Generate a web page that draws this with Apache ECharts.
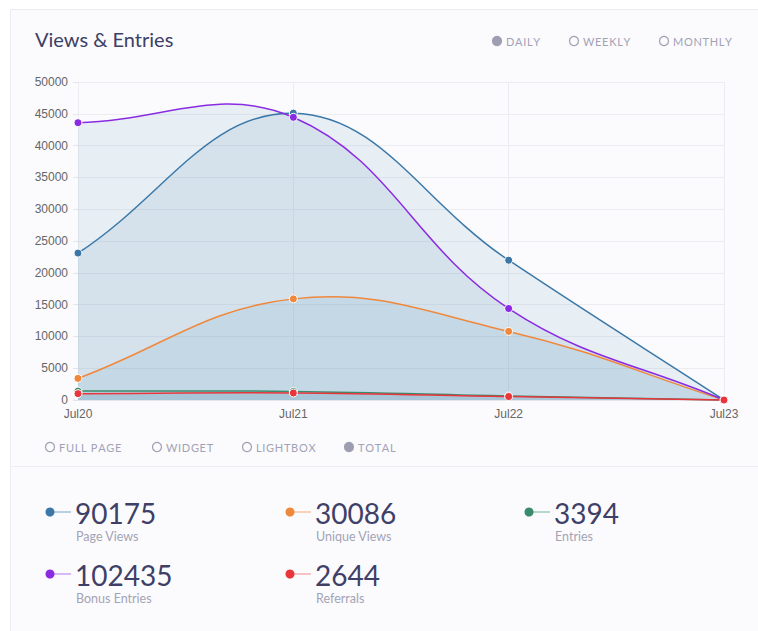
<!DOCTYPE html>
<html>
<head>
<meta charset="utf-8">
<script src="https://cdn.jsdelivr.net/npm/echarts@6/dist/echarts.min.js"></script>
<style>
html,body{margin:0;padding:0;background:#ffffff;}
#chart{width:758px;height:631px;}
</style>
</head>
<body>
<div id="chart"></div>
<script>
var categories = ['Jul20', 'Jul21', 'Jul22', 'Jul23'];
var pageViews = [23100, 45100, 21975, 0];
var uniqueViews = [3400, 15900, 10786, 0];
var entries = [1400, 1350, 644, 0];
var bonusEntries = [43600, 44450, 14385, 0];
var referrals = [1000, 1100, 544, 0];
var yTicks = [0, 5000, 10000, 15000, 20000, 25000, 30000, 35000, 40000, 45000, 50000];
var periodLabels = ['DAILY', 'WEEKLY', 'MONTHLY'];
var sourceLabels = ['FULL PAGE', 'WIDGET', 'LIGHTBOX', 'TOTAL'];
var statTotals = ['90175', '30086', '3394', '102435', '2644'];
var statNames = ['Page Views', 'Unique Views', 'Entries', 'Bonus Entries', 'Referrals'];

var seriesDefs = [
  {name: 'Page Views', data: pageViews, color: '#3b78a8'},
  {name: 'Unique Views', data: uniqueViews, color: '#f0883c'},
  {name: 'Entries', data: entries, color: '#3a8a6c'},
  {name: 'Bonus Entries', data: bonusEntries, color: '#8a2be2'},
  {name: 'Referrals', data: referrals, color: '#e8363b'}
];

var chart = echarts.init(document.getElementById('chart'), null, {renderer: 'svg'});

var FONT = 'Lato, "Open Sans", sans-serif';
var graphics = [];
graphics.push({type: 'rect', z: -10, shape: {x: 10.5, y: 9.5, width: 800, height: 700},
  style: {fill: '#fbfbfd', stroke: '#ececf1', lineWidth: 1}});
graphics.push({type: 'line', z: -9, shape: {x1: 10, y1: 466.5, x2: 758, y2: 466.5},
  style: {stroke: '#ececf1', lineWidth: 1}});
graphics.push({type: 'text', left: 35, top: 29, style: {text: 'Views & Entries', font: '400 20px ' + FONT, fill: '#3c3f66'}});

function radio(x, y, label, filled) {
  graphics.push({type: 'circle', shape: {cx: x, cy: y, r: 4.5},
    style: {fill: filled ? '#9e9eb2' : 'none', stroke: '#9e9eb2', lineWidth: 1.2}});
  graphics.push({type: 'text', x: x + 9, y: y, style: {text: label, font: '400 11px ' + FONT,
    fill: '#a2a2b6', verticalAlign: 'middle'}});
}
var periodX = [497, 574, 664];
periodLabels.forEach(function (l, i) { radio(periodX[i], 41, l.split('').join('\u200A'), i === 0); });
var sourceX = [50, 157, 247, 349];
sourceLabels.forEach(function (l, i) { radio(sourceX[i], 447, l.split('').join('\u200A'), i === 3); });

var statPos = [[50, 512], [290, 512], [529, 512], [50, 574], [290, 574]];
var statColors = ['#3b78a8', '#f0883c', '#3a8a6c', '#8a2be2', '#e8363b'];
var statLight = ['#8fb3d1', '#f6b98d', '#8cbfab', '#c28cf0', '#f39c9f'];
statTotals.forEach(function (t, i) {
  var p = statPos[i];
  graphics.push({type: 'line', shape: {x1: p[0], y1: p[1], x2: p[0] + 21, y2: p[1]}, style: {stroke: statLight[i], lineWidth: 1.2}});
  graphics.push({type: 'circle', shape: {cx: p[0], cy: p[1], r: 4.5}, style: {fill: statColors[i]}});
  graphics.push({type: 'text', x: p[0] + 25, y: p[1] + 1, style: {text: t, font: '400 28px ' + FONT,
    lineHeight: 26, fill: '#3e4067', verticalAlign: 'middle'}});
  graphics.push({type: 'text', x: p[0] + 26, y: p[1] + 24, style: {text: statNames[i], font: '400 12.5px ' + FONT,
    lineHeight: 13, fill: '#a3a3b6', verticalAlign: 'middle'}});
});

// Chart.js-style cardinal spline (tension 0.4), control points capped to the plot area
function splinePath(pts, cs, closeBase) {
  var t = 0.4, cps = [];
  function clampX(v) { return Math.max(cs.x, Math.min(cs.x + cs.width, v)); }
  function clampY(v) { return Math.max(cs.y, Math.min(cs.y + cs.height, v)); }
  for (var i = 0; i < pts.length; i++) {
    var cur = pts[i], prev = pts[i - 1] || cur, next = pts[i + 1] || cur;
    var d01 = Math.hypot(cur[0] - prev[0], cur[1] - prev[1]);
    var d12 = Math.hypot(next[0] - cur[0], next[1] - cur[1]);
    var s01 = d01 / (d01 + d12), s12 = d12 / (d01 + d12);
    if (isNaN(s01)) s01 = 0; if (isNaN(s12)) s12 = 0;
    var fa = t * s01, fb = t * s12;
    cps.push({
      px: clampX(cur[0] - fa * (next[0] - prev[0])), py: clampY(cur[1] - fa * (next[1] - prev[1])),
      nx: clampX(cur[0] + fb * (next[0] - prev[0])), ny: clampY(cur[1] + fb * (next[1] - prev[1]))
    });
  }
  var d = 'M' + pts[0][0] + ' ' + pts[0][1];
  for (var j = 1; j < pts.length; j++) {
    d += ' C' + cps[j - 1].nx + ' ' + cps[j - 1].ny + ' ' + cps[j].px + ' ' + cps[j].py + ' ' + pts[j][0] + ' ' + pts[j][1];
  }
  if (closeBase) {
    d += ' L' + pts[pts.length - 1][0] + ' ' + closeBase + ' L' + pts[0][0] + ' ' + closeBase + ' Z';
  }
  return d;
}

var series = [];
seriesDefs.forEach(function (s) {
  var data = s.data.map(function (v, i) { return [i, v]; });
  series.push({
    name: s.name + ' area', type: 'custom', z: 1, data: data, encode: {x: 0, y: 1}, silent: true,
    renderItem: function (params, api) {
      if (params.dataIndex !== 0) return {type: 'group', children: []};
      var pts = s.data.map(function (v, i) { return api.coord([i, v]); });
      var base = api.coord([0, 0])[1];
      return {type: 'path', shape: {pathData: splinePath(pts, params.coordSys, base)},
        style: {fill: 'rgba(62,130,168,0.1)', stroke: 'none'}};
    }
  });
});
seriesDefs.forEach(function (s) {
  var data = s.data.map(function (v, i) { return [i, v]; });
  series.push({
    name: s.name, type: 'custom', z: 3, data: data, encode: {x: 0, y: 1},
    renderItem: function (params, api) {
      var idx = params.dataIndex;
      var pts = s.data.map(function (v, i) { return api.coord([i, v]); });
      var children = [];
      if (idx === 0) {
        children.push({type: 'path', shape: {pathData: splinePath(pts, params.coordSys)},
          style: {fill: 'none', stroke: s.color, lineWidth: 1.5}});
      }
      children.push({type: 'circle', shape: {cx: pts[idx][0], cy: pts[idx][1], r: 4},
        style: {fill: s.color, stroke: '#ffffff', lineWidth: 1}});
      return {type: 'group', children: children};
    }
  });
});

var option = {
  animation: false,
  grid: {left: 78, right: 34, top: 82, bottom: 231},
  xAxis: {
    type: 'category', data: categories, boundaryGap: false,
    axisLine: {show: true, lineStyle: {color: '#e4e4ea'}},
    axisTick: {show: false},
    splitLine: {show: true, lineStyle: {color: '#ececf1'}},
    axisLabel: {color: '#666', fontSize: 12, fontFamily: 'Liberation Sans, Arial, sans-serif', margin: 8}
  },
  yAxis: {
    type: 'value', min: yTicks[0], max: yTicks[yTicks.length - 1], interval: 5000,
    axisLine: {show: false},
    axisTick: {show: true, length: 5, lineStyle: {color: '#e4e4ea'}},
    splitLine: {show: true, lineStyle: {color: '#ececf1'}},
    axisLabel: {color: '#666', fontSize: 12, fontFamily: 'Liberation Sans, Arial, sans-serif', margin: 10,
      formatter: function (v) { return String(v); }}
  },
  graphic: graphics,
  series: series
};
chart.setOption(option);
</script>
</body>
</html>
